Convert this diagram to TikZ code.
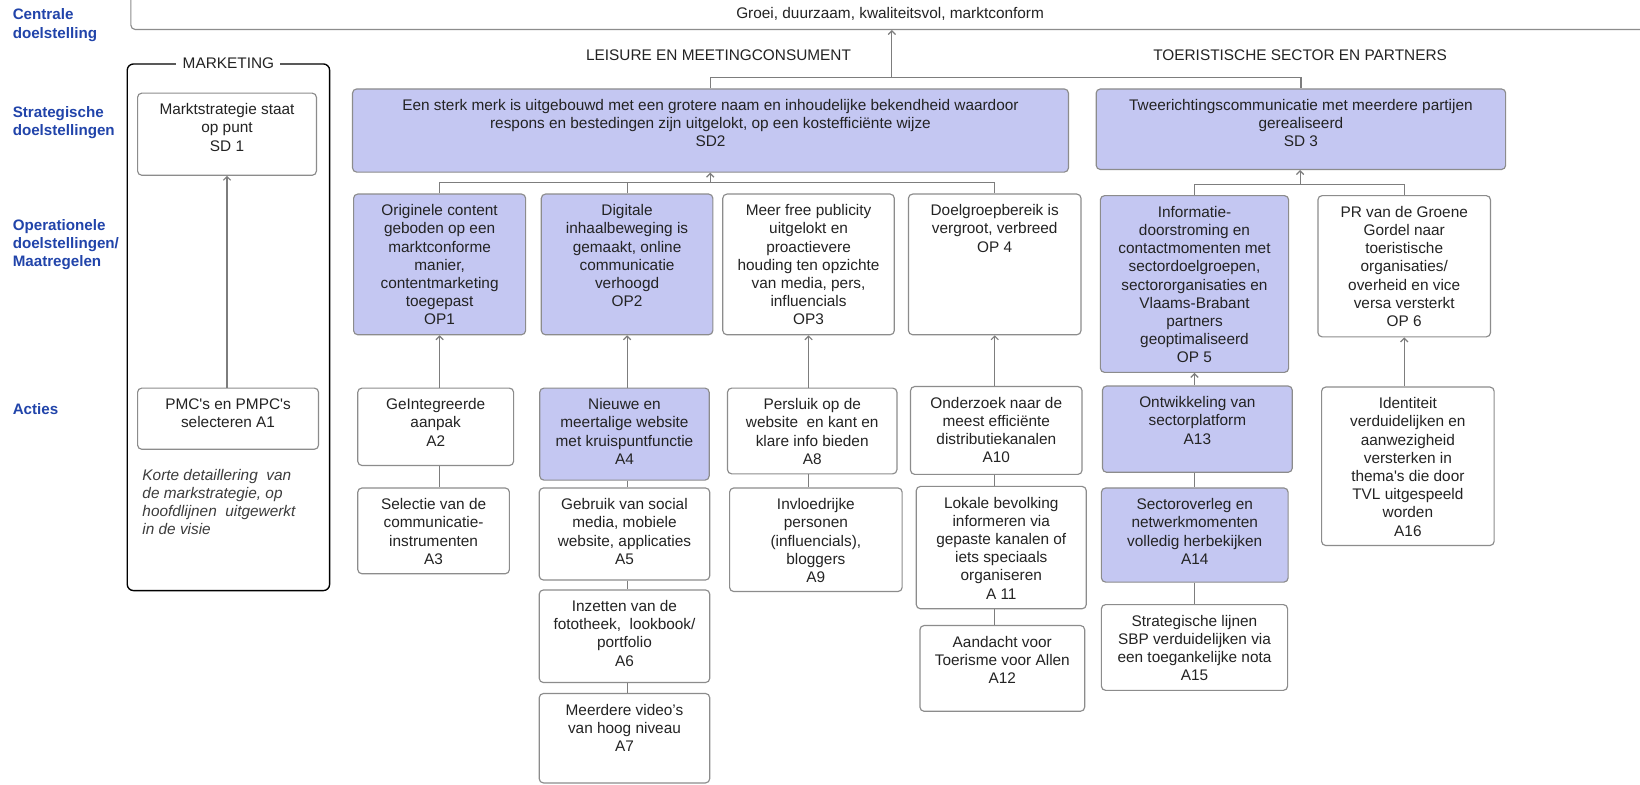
\documentclass[tikz,border=0pt]{standalone}
\usepackage{fontspec}
\setmainfont{Liberation Sans}
\usetikzlibrary{arrows.meta}
\definecolor{lavcol}{RGB}{196,199,242}
\definecolor{bordcol}{RGB}{140,140,140}
\definecolor{conncol}{RGB}{125,125,125}
\definecolor{txtcol}{RGB}{35,35,35}
\definecolor{bluecol}{RGB}{33,68,170}
\definecolor{notecol}{RGB}{60,60,60}
\tikzset{
  boxst/.style={draw=bordcol, line width=1.1pt, rounded corners=4pt, text=txtcol,
    font=\fontsize{14.7}{17.4}\selectfont},
  lavbox/.style={fill=lavcol},
  whtbox/.style={fill=white},
  conn/.style={draw=conncol, line width=1.1pt},
  arr/.style={conn, -{Straight Barb[length=3.5pt,width=7pt]}},
  lvl/.style={text=bluecol, font=\fontsize{14.5}{17.5}\selectfont\bfseries, align=left,
    anchor=west, inner sep=0pt},
  hdr/.style={text=txtcol, font=\fontsize{14.7}{17.4}\selectfont, inner sep=0pt},
  framest/.style={draw=black, line width=1.3pt, rounded corners=6pt},
}
\newcommand\mkbox[7]{%
  \pgfmathsetmacro\bw{#5-#3}%
  \pgfmathsetmacro\bh{#6-#4}%
  \node[boxst,#2,anchor=north west,inner sep=0pt] (#1) at (#3,#4)
    {\parbox[c][\bh pt][t]{\bw pt}{\vspace*{8.5pt}\centering\strut #7}};%
}
\begin{document}
\begin{tikzpicture}[x=1pt,y=-1pt]
\useasboundingbox (0,0) rectangle (1568,750);
\clip (0,0) rectangle (1568,750);
\fill[white] (0,0) rectangle (1568,750);

% level labels
\node[lvl] (lcentral) at (12,24) {Centrale\\doelstelling};
\node[lvl] (lstrat) at (12,117.5) {Strategische\\doelstellingen};
\node[lvl] (loper) at (12,234) {Operationele\\doelstellingen/\\Maatregelen};
\node[lvl] (lacties) at (12,391) {Acties};

% central goal
\node[boxst, fill=white, anchor=south west, minimum width=1500pt, minimum height=60pt] (centralbox) at (124.6,28.7) {};
\node[hdr] (centraltext) at (851,13) {Groei, duurzaam, kwaliteitsvol, marktconform};

% group headers
\node[hdr] (leisure) at (687,53) {LEISURE EN MEETINGCONSUMENT};
\node[hdr] (toer) at (1243,53) {TOERISTISCHE SECTOR EN PARTNERS};

% marketing frame
\node[framest, anchor=north west, minimum width=193.5pt, minimum height=503.5pt] (mkt) at (121,60.5) {};
\node[hdr, fill=white, inner xsep=6pt, inner ysep=2pt] (mktlabel) at (mkt.north) {MARKETING};

% strategic goals
\mkbox{sd1}{whtbox}{131}{88.5}{302}{167}{Marktstrategie staat\\op punt\\SD 1}
\mkbox{sd2}{lavbox}{336.5}{84.5}{1021}{164}{Een sterk merk is uitgebouwd met een grotere naam en inhoudelijke bekendheid waardoor\\respons en bestedingen zijn uitgelokt, op een kostefficiënte wijze\\SD2}
\mkbox{sd3}{lavbox}{1047.5}{84.5}{1439}{161.5}{Tweerichtingscommunicatie met meerdere partijen\\gerealiseerd\\SD 3}

% operational goals
\mkbox{op1}{lavbox}{337.5}{185}{502}{319.5}{Originele content\\geboden op een\\marktconforme\\manier,\\contentmarketing\\toegepast\\OP1}
\mkbox{op2}{lavbox}{517}{185}{681}{319.5}{Digitale\\inhaalbeweging is\\gemaakt, online\\communicatie\\verhoogd\\OP2}
\mkbox{op3}{whtbox}{690.5}{185}{854.5}{319.5}{Meer free publicity\\uitgelokt en\\proactievere\\houding ten opzichte\\van media, pers,\\influencials\\OP3}
\mkbox{op4}{whtbox}{868}{185}{1033}{319.5}{Doelgroepbereik is\\vergroot, verbreed\\OP 4}
\mkbox{op5}{lavbox}{1051.5}{186.5}{1231.5}{355.5}{Informatie-\\doorstroming en\\contactmomenten met\\sectordoelgroepen,\\sectororganisaties en\\Vlaams-Brabant\\partners\\geoptimaliseerd\\OP 5}
\mkbox{op6}{whtbox}{1259.5}{186.5}{1424.5}{321.5}{PR van de Groene\\Gordel naar\\toeristische\\organisaties/\\overheid en vice\\versa versterkt\\OP 6}

% actions
\mkbox{a1}{whtbox}{131}{370.5}{304}{429}{PMC\textquotesingle s en PMPC\textquotesingle s\\selecteren A1}
\mkbox{a2}{whtbox}{341.5}{370.5}{490.5}{444.5}{GeIntegreerde\\aanpak\\A2}
\mkbox{a3}{whtbox}{341.5}{466}{486.5}{548}{Selectie van de\\communicatie-\\instrumenten\\A3}
\mkbox{a4}{lavbox}{515.5}{370.5}{677.5}{458.5}{Nieuwe en\\meertalige website\\met kruispuntfunctie\\A4}
\mkbox{a5}{whtbox}{515}{466}{678}{554}{Gebruik van social\\media, mobiele\\website, applicaties\\A5}
\mkbox{a6}{whtbox}{515}{563.5}{678}{652}{Inzetten van de\\fototheek,~ lookbook/\\portfolio\\A6}
\mkbox{a7}{whtbox}{515}{662.5}{678}{748}{Meerdere video’s\\van hoog niveau\\A7}
\mkbox{a8}{whtbox}{695}{370.5}{857}{452.5}{Persluik op de\\website~ en kant en\\klare info bieden\\A8}
\mkbox{a9}{whtbox}{697}{466}{862}{565}{Invloedrijke\\personen\\(influencials),\\bloggers\\A9}
\mkbox{a10}{whtbox}{870}{369}{1034}{453}{Onderzoek naar de\\meest efficiënte\\distributiekanalen\\A10}
\mkbox{a11}{whtbox}{875.5}{464.5}{1038}{581.5}{Lokale bevolking\\informeren via\\gepaste kanalen of\\iets speciaals\\organiseren\\A 11}
\mkbox{a12}{whtbox}{879}{597.5}{1036.5}{679.5}{Aandacht voor\\Toerisme voor Allen\\A12}
\mkbox{a13}{lavbox}{1053.5}{368.5}{1235}{451}{Ontwikkeling van\\sectorplatform\\A13}
\mkbox{a14}{lavbox}{1052.5}{466}{1231}{556}{Sectoroverleg en\\netwerkmomenten\\volledig herbekijken\\A14}
\mkbox{a15}{whtbox}{1052.5}{577.5}{1230.5}{659.5}{Strategische lijnen\\SBP verduidelijken via\\een toegankelijke nota\\A15}
\mkbox{a16}{whtbox}{1263}{369.5}{1428}{521}{Identiteit\\verduidelijken en\\aanwezigheid\\versterken in\\thema\textquotesingle s die door\\TVL uitgespeeld\\worden\\A16}

% note
\node[hdr, text=notecol, font=\fontsize{14.7}{17.4}\selectfont\itshape, align=left, anchor=north west] (note) at (136,448.3)
  {Korte detaillering~ van\\de markstrategie, op\\hoofdlijnen~ uitgewerkt\\in de visie};

% connectors top
\coordinate (j1) at (852.7,74.3);
\draw[conn] (sd2.north) |- (j1) -| (sd3.north);
\draw[arr] (j1) -- (j1 |- centralbox.south);

\coordinate (j2) at (679,174.7);
\draw[conn] (op1.north) |- (j2) -| (op4.north);
\draw[conn] (op2.north) -- (op2.north |- j2);
\draw[arr] (j2) -- (j2 |- sd2.south);

\coordinate (j3) at (1243,176);
\draw[conn] (op5.north) |- (j3) -| (op6.north);
\draw[arr] (j3) -- (j3 |- sd3.south);

% action -> goal arrows
\draw[arr] (sd1.south |- a1.north) -- (sd1.south);
\draw[arr] (op1.south |- a2.north) -- (op1.south);
\draw[arr] (op2.south |- a4.north) -- (op2.south);
\draw[arr] (op3.south |- a8.north) -- (op3.south);
\draw[arr] (op4.south |- a10.north) -- (op4.south);
\draw[arr] (op5.south |- a13.north) -- (op5.south);
\draw[arr] (op6.south |- a16.north) -- (op6.south);

% action chains
\draw[conn] (op1.south |- a2.south) -- (op1.south |- a3.north);
\draw[conn] (op2.south |- a4.south) -- (op2.south |- a5.north);
\draw[conn] (op2.south |- a5.south) -- (op2.south |- a6.north);
\draw[conn] (op2.south |- a6.south) -- (op2.south |- a7.north);
\draw[conn] (op3.south |- a8.south) -- (op3.south |- a9.north);
\draw[conn] (op4.south |- a10.south) -- (op4.south |- a11.north);
\draw[conn] (op4.south |- a11.south) -- (op4.south |- a12.north);
\draw[conn] (op5.south |- a13.south) -- (op5.south |- a14.north);
\draw[conn] (op5.south |- a14.south) -- (op5.south |- a15.north);
\end{tikzpicture}
\end{document}
